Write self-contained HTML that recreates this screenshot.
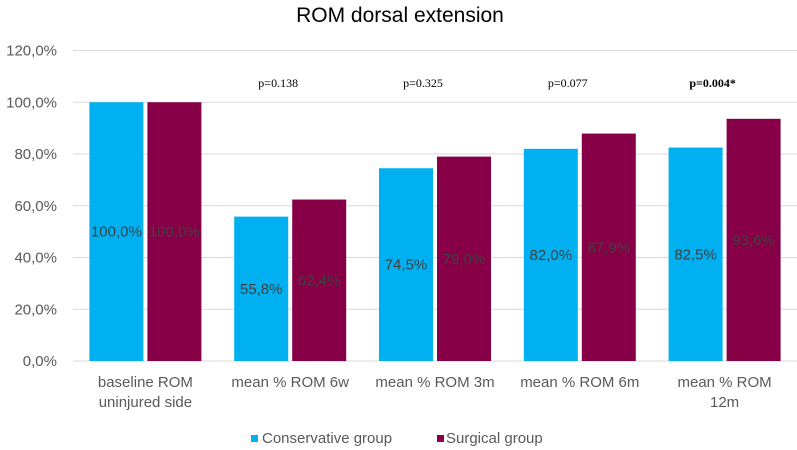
<!DOCTYPE html>
<html><head><meta charset="utf-8"><style>
body{margin:0;background:#fff;}
svg{display:block;font-family:"Liberation Sans",sans-serif;}
</style></head><body>
<svg id="chart" width="797" height="450">
<text x="400" y="22" text-anchor="middle" font-size="21" fill="#000">ROM dorsal extension</text>
<g id="grid"></g><g id="bars"></g><g id="labels"></g>
<g>
<rect x="251" y="435" width="7" height="7" fill="#00b0f0"/>
<text x="262" y="443" font-size="15" fill="#595959">Conservative group</text>
<rect x="437" y="435" width="7" height="7" fill="#870047"/>
<text x="446" y="443" font-size="15" fill="#595959">Surgical group</text>
</g>
</svg>
<script>
const categories=[["baseline ROM","uninjured side"],["mean % ROM 6w"],["mean % ROM 3m"],["mean % ROM 6m"],["mean % ROM","12m"]];
const conservative=[100.0,55.8,74.5,82.0,82.5];
const surgical=[100.0,62.4,79.0,87.9,93.6];
const pValues=["","p=0.138","p=0.325","p=0.077","p=0.004*"];
const yTicks=[0,20,40,60,80,100,120];
const NS="http://www.w3.org/2000/svg";
const x0=73,x1=797,yb=361,yt=50.5,ymax=120;
const cw=(x1-x0)/categories.length;
const y=v=>yb-(v/ymax)*(yb-yt);
const fmt=v=>v.toFixed(1).replace('.',',')+'%';
function mk(tag,attrs,parent,txt){const e=document.createElementNS(NS,tag);for(const k in attrs)e.setAttribute(k,attrs[k]);if(txt!==undefined)e.textContent=txt;parent.appendChild(e);return e;}
const grid=document.getElementById('grid'),bars=document.getElementById('bars'),labels=document.getElementById('labels');
yTicks.forEach(t=>{
 const l=mk('line',{x1:x0,x2:x1,y1:y(t),y2:y(t),stroke:'#d9d9d9','stroke-width':1},grid);
 
 
 const tx=mk('text',{x:57,y:y(t)+5,'text-anchor':'end','font-size':15,fill:'#595959'},grid,fmt(t));
 
 
});
const bw=54,gap=4;
categories.forEach((c,i)=>{
 const cx=x0+cw*(i+0.5);
 [[conservative,'#00b0f0','conservative',-1],[surgical,'#870047','surgical',1]].forEach(([arr,col,nm,s])=>{
  const v=arr[i];
  const bx=s<0?cx-gap/2-bw:cx+gap/2;
  const r=mk('rect',{x:bx,y:y(v),width:bw,height:yb-y(v),fill:col},bars);
  
  
  const t=mk('text',{x:bx+bw/2,y:(y(v)+yb)/2+5,'text-anchor':'middle','font-size':15,fill:'#404040'},labels,fmt(v));
  
  
 });
 c.forEach((line,j)=>{
  const t=mk('text',{x:cx,y:387+j*20,'text-anchor':'middle','font-size':15,fill:'#595959'},labels,line);
  
  
 });
 if(pValues[i]){
  const p=mk('text',{x:cx-12,y:87,'text-anchor':'middle','font-size':12,fill:'#000','font-family':'"Liberation Serif",serif','font-weight':i===4?'bold':'normal'},labels,pValues[i]);
  
  
 }
});
</script>
</body></html>
